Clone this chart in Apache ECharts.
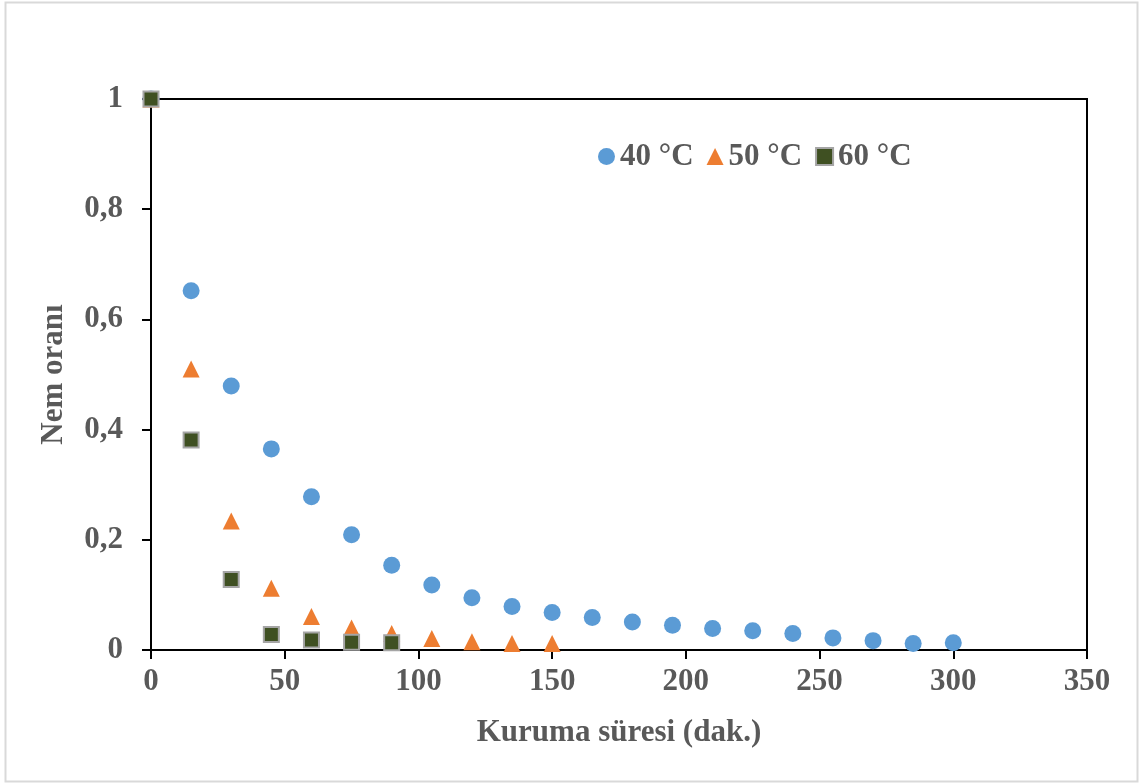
<!DOCTYPE html>
<html>
<head>
<meta charset="utf-8">
<script src="https://cdn.jsdelivr.net/npm/echarts@6/dist/echarts.min.js"></script>
<style>
html,body{margin:0;padding:0;background:#fff;}
#chart{width:1140px;height:784px;}
</style>
</head>
<body>
<div id="chart"></div>
<script>
// Data
const seriesNames = ['40 °C', '50 °C', '60 °C'];
const time40 = [0, 15, 30, 45, 60, 75, 90, 105, 120, 135, 150, 165, 180, 195, 210, 225, 240, 255, 270, 285, 300];
const mr40   = [1, 0.652, 0.479, 0.365, 0.278, 0.209, 0.154, 0.118, 0.095, 0.079, 0.068, 0.059, 0.051, 0.045, 0.039, 0.035, 0.030, 0.022, 0.017, 0.012, 0.013];
const time50 = [0, 15, 30, 45, 60, 75, 90, 105, 120, 135, 150];
const mr50   = [1, 0.510, 0.234, 0.112, 0.061, 0.040, 0.030, 0.021, 0.015, 0.012, 0.012];
const time60 = [0, 15, 30, 45, 60, 75, 90];
const mr60   = [1, 0.381, 0.128, 0.028, 0.018, 0.014, 0.013];
const xTicks = {min: 0, max: 350, interval: 50};
const yTicks = {min: 0, max: 1, interval: 0.2};

const pairs = (xs, ys) => xs.map((x, i) => [x, ys[i]]);
const FONT = "'Liberation Serif', 'Times New Roman', serif";
const GRAY = '#595959';

const chart = echarts.init(document.getElementById('chart'));
chart.setOption({
  animation: false,
  backgroundColor: '#fff',
  graphic: [{
    type: 'rect',
    shape: {x: 5.5, y: 2.5, width: 1132, height: 779},
    style: {fill: 'none', stroke: '#d9d9d9', lineWidth: 2},
    silent: true
  }],
  grid: {
    left: 151, top: 99, right: 53, bottom: 134,
    show: true, borderColor: '#000', borderWidth: 2, backgroundColor: 'transparent'
  },
  legend: {
    data: seriesNames,
    left: 593, top: 136,
    itemWidth: 17, itemHeight: 17, itemGap: 13,
    textStyle: {fontFamily: FONT, fontWeight: 'bold', fontSize: 31, color: GRAY}
  },
  xAxis: {
    type: 'value',
    min: xTicks.min, max: xTicks.max, interval: xTicks.interval,
    name: 'Kuruma süresi (dak.)',
    nameLocation: 'middle', nameGap: 67,
    nameTextStyle: {fontFamily: FONT, fontWeight: 'bold', fontSize: 31, color: GRAY},
    axisLine: {show: true, onZero: false, lineStyle: {color: '#000', width: 2}},
    axisTick: {show: true, inside: false, length: 9, lineStyle: {color: '#000', width: 2}},
    axisLabel: {fontFamily: FONT, fontWeight: 'bold', fontSize: 31, color: GRAY, margin: 16},
    splitLine: {show: false}
  },
  yAxis: {
    type: 'value',
    min: yTicks.min, max: yTicks.max, interval: yTicks.interval,
    name: 'Nem oranı',
    nameLocation: 'middle', nameGap: 82,
    nameTextStyle: {fontFamily: FONT, fontWeight: 'bold', fontSize: 31, color: GRAY},
    axisLine: {show: true, onZero: false, lineStyle: {color: '#000', width: 2}},
    axisTick: {show: true, inside: false, length: 9, lineStyle: {color: '#000', width: 2}},
    axisLabel: {
      fontFamily: FONT, fontWeight: 'bold', fontSize: 31, color: GRAY, margin: 28,
      formatter: v => String(Math.round(v * 10) / 10).replace('.', ',')
    },
    splitLine: {show: false}
  },
  series: [
    {
      name: seriesNames[0], type: 'scatter', symbol: 'circle', symbolSize: 17,
      itemStyle: {color: '#5B9BD5', opacity: 1},
      data: pairs(time40, mr40)
    },
    {
      name: seriesNames[1], type: 'scatter', symbol: 'triangle', symbolSize: [17, 17],
      itemStyle: {color: '#ED7D31', opacity: 1},
      data: pairs(time50, mr50)
    },
    {
      name: seriesNames[2], type: 'scatter', symbol: 'rect', symbolSize: 15,
      itemStyle: {color: '#3f5022', borderColor: '#a5a5a5', borderWidth: 2, opacity: 1},
      data: pairs(time60, mr60)
    }
  ]
});
</script>
</body>
</html>
